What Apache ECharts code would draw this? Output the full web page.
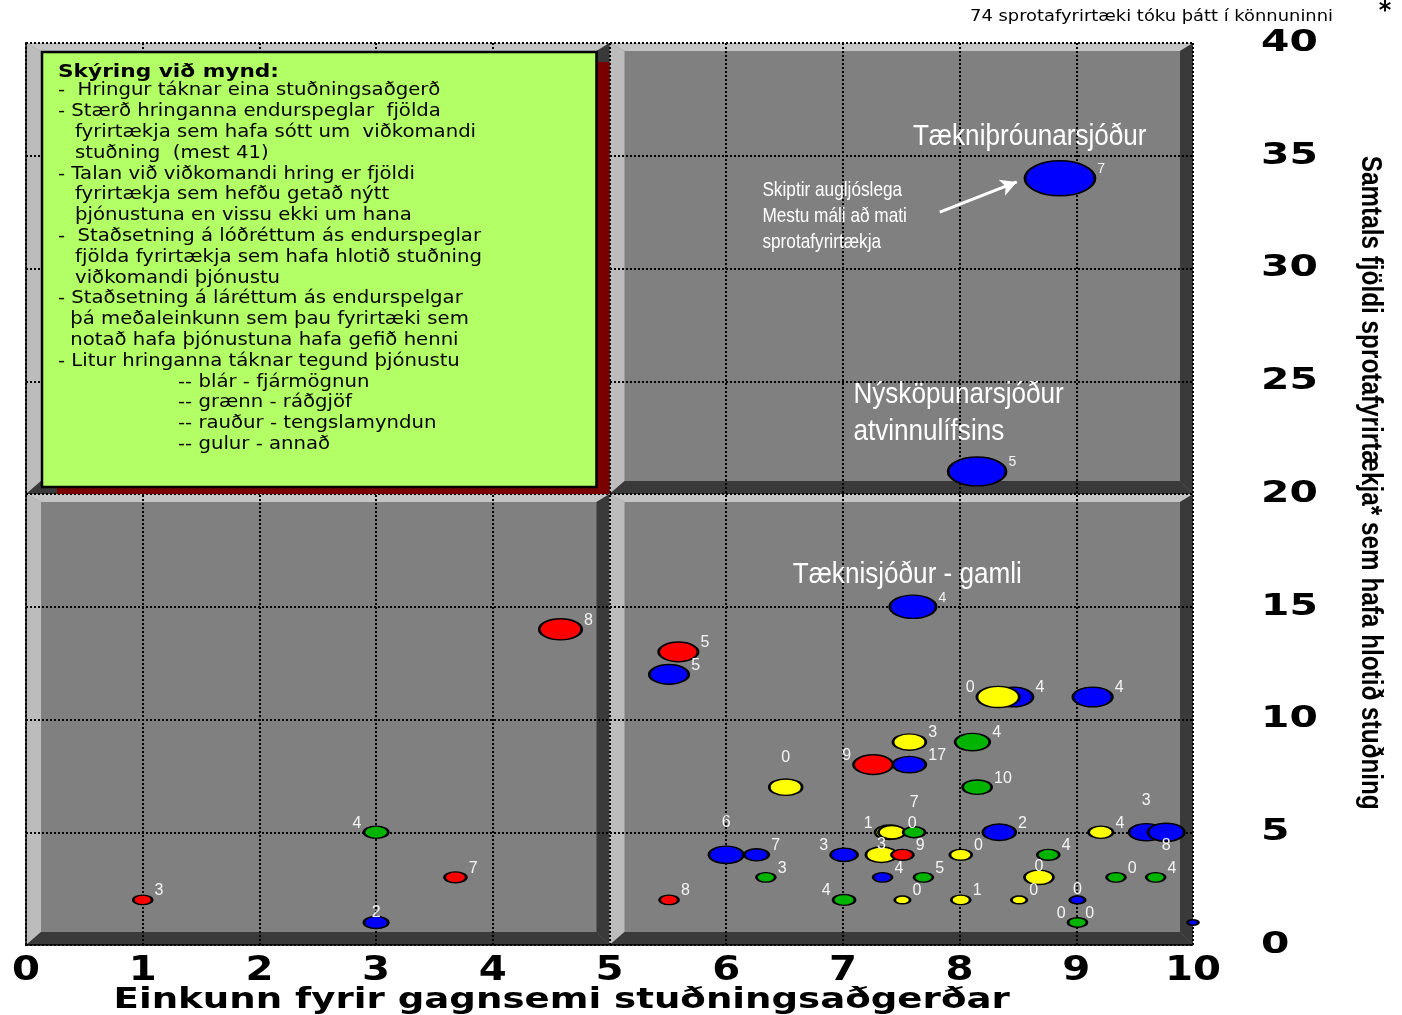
<!DOCTYPE html>
<html><head><meta charset="utf-8">
<script src="https://cdn.jsdelivr.net/npm/echarts@6/dist/echarts.min.js"></script>
<style>html,body{margin:0;padding:0;background:#fff;}#c{width:1402px;height:1015px;}</style>
</head><body><div id="c"></div>
<script>
// ---------- DATA ----------
const xTicks = [0,1,2,3,4,5,6,7,8,9,10];
const yTicks = [0,5,10,15,20,25,30,35,40];
// average score (x), number of firms that received support (y)
const score   = [8.86,8.15,7.60,4.58,5.59,5.51,8.46,8.33,9.14,7.57,8.11,7.26,7.57,6.51,8.15,3.00,7.40,7.42,7.61,8.34,9.21,9.60,9.77,6.00,6.26,7.01,7.33,7.51,8.01,8.76,3.68,6.34,7.34,7.69,8.68,9.34,9.68,1.00,5.51,7.01,7.51,8.01,8.51,9.01,3.00,9.01,9.01,10.0];
const count   = [34,21,15,14,13,12,11,11,11,9,9,8,8,7,7,5,5,5,5,5,5,5,5,4,4,4,4,4,4,4,3,3,3,3,3,3,3,2,2,2,2,2,2,2,1,1,1,1];
// number of firms that applied (bubble size, max 41)
const applied = [41,28,18,15,13,13,13,15,13,9,10,13,9,9,7,5,7,6,4,9,5,10,11,10,5,6,8,4,4,4,4,3,3,3,7,3,3,3,3,4,2,3,2,2,5,1,3,1];
// firms that could have used the service but did not know of it (label)
const unaware = [7,5,4,8,5,5,4,0,4,3,4,9,17,0,10,4,1,0,7,2,4,3,8,6,7,3,3,9,0,4,7,3,4,5,0,0,4,3,8,4,0,1,0,0,2,0,0,null];
// service type (colour)
const kind = ['blár','blár','blár','rauður','rauður','blár','blár','gulur','blár','gulur','grænn','rauður','blár','gulur','grænn','grænn','gulur','gulur','grænn','blár','gulur','blár','blár','blár','blár','blár','gulur','rauður','gulur','grænn','rauður','grænn','blár','grænn','gulur','grænn','grænn','rauður','rauður','grænn','gulur','gulur','gulur','blár','blár','gulur','grænn','blár'];

const quadrants = [[0,0,5,20],[5,0,10,20],[5,20,10,40],[0,20,5,40]];
const legendTitle = 'Skýring við mynd:';
const legendLines = [
 '-  Hringur táknar eina stuðningsaðgerð',
 '- Stærð hringanna endurspeglar  fjölda',
 'fyrirtækja sem hafa sótt um  viðkomandi',
 'stuðning  (mest 41)',
 '- Talan við viðkomandi hring er fjöldi',
 'fyrirtækja sem hefðu getað nýtt',
 'þjónustuna en vissu ekki um hana',
 '-  Staðsetning á lóðréttum ás endurspeglar',
 'fjölda fyrirtækja sem hafa hlotið stuðning',
 'viðkomandi þjónustu',
 '- Staðsetning á láréttum ás endurspelgar',
 ' þá meðaleinkunn sem þau fyrirtæki sem',
 ' notað hafa þjónustuna hafa gefið henni',
 '- Litur hringanna táknar tegund þjónustu',
 '-- blár - fjármögnun',
 '-- grænn - ráðgjöf',
 '-- rauður - tengslamyndun',
 '-- gulur - annað'
];
const xName = 'Einkunn fyrir gagnsemi stuðningsaðgerðar';
const yName = 'Samtals fjöldi sprotafyrirtækja* sem hafa hlotið stuðning';
const topNote = '74 sprotafyrirtæki tóku þátt í könnuninni';

// ---------- STYLE ----------
const COLORS = {'blár':'#0000FF','grænn':'#00B400','rauður':'#FF0000','gulur':'#FFFF00'};
const legendIndent = [0,0,17,17,0,17,17,0,17,17,0,6,6,0,120,120,120,120];
const K = 10.93;          // px per sqrt(size) (width)
const labelPlace = {7:['tl'],11:['tl'],13:['t',13],15:['tl'],16:['tl'],18:['t',15],21:['t',14],22:['b',-4],23:['t',15],25:['tl'],26:['t',-6],34:['t',-5],39:['tl'],43:['t',-2],44:['t',-5],46:['tl']};
const smallLabel = new Set([0,1,2]);

const mctx = document.createElement('canvas').getContext('2d');
function tw(text, font){ mctx.font = font; return mctx.measureText(text).width; }

function labelCfg(i){
  const p = labelPlace[i] || ['tr'];
  const base = {show: unaware[i] != null, color:'#f4f4f4', fontSize: smallLabel.has(i)?14:16, fontFamily:'Liberation Sans',
    formatter: prm => prm.value[3] == null ? '' : String(prm.value[3])};
  if (p[0]==='tr') return Object.assign(base,{position:'right',distance:1,offset:[0,-9]});
  if (p[0]==='tl') return Object.assign(base,{position:'left',distance:1,offset:[0,-9]});
  if (p[0]==='t') return Object.assign(base,{position:'top',distance:p[1]});
  return Object.assign(base,{position:'bottom',distance:p[1]});
}

const dotted = {color:'#000', type:[2,2], width:2};

function panelItem(params, api){
  const q = quadrants[params.dataIndex];
  const p0 = api.coord([q[0], q[3]]), p1 = api.coord([q[2], q[1]]);
  const x0=p0[0], y0=p0[1], x1=p1[0], y1=p1[1];
  const L=15, T=8, B=13, R=13;
  return {type:'group', children:[
    {type:'rect', shape:{x:x0,y:y0,width:x1-x0,height:y1-y0}, style:{fill:'#808080'}},
    {type:'polygon', shape:{points:[[x0,y0],[x1,y0],[x1-R,y0+T],[x0+L,y0+T]]}, style:{fill:'#c4c4c4'}},
    {type:'polygon', shape:{points:[[x0,y0],[x0+L,y0+T],[x0+L,y1-B],[x0,y1]]}, style:{fill:'#bcbcbc'}},
    {type:'polygon', shape:{points:[[x0,y1],[x0+L,y1-B],[x1-R,y1-B],[x1,y1]]}, style:{fill:'#3a3a3a'}},
    {type:'polygon', shape:{points:[[x1,y0],[x1,y1],[x1-R,y1-B],[x1-R,y0+T]]}, style:{fill:'#3a3a3a'}}
  ]};
}

const bodyFont = '17px "DejaVu Sans"';
const titleFont = 'bold 18px "DejaVu Sans"';
const bodyScale = 423 / tw(legendLines[7], bodyFont);
const titleScale = 221 / tw(legendTitle, titleFont);

function legendItem(params, api){
  const q = quadrants[3];
  const p0 = api.coord([q[0], q[3]]), p1 = api.coord([q[2], q[1]]);
  const x0=p0[0], y0=p0[1], x1=p1[0], y1=p1[1];
  const bx0=x0+16, by0=y0+9, bx1=x1-13, by1=y1-7;
  const ch = [
    {type:'rect', shape:{x:bx0+15,y:by0+10,width:x1-bx0-15,height:y1-by0-10}, style:{fill:'#7a0000'}},
    {type:'rect', shape:{x:bx0,y:by0,width:bx1-bx0,height:by1-by0}, style:{fill:'#B2FF66',stroke:'#000',lineWidth:2.5}},
    {type:'text', x:bx0+16, y:by0+20, scaleX:titleScale, style:{text:legendTitle, font:titleFont, fill:'#000', align:'left', verticalAlign:'middle'}}
  ];
  legendLines.forEach((t,i)=>{
    ch.push({type:'text', x:bx0+16+legendIndent[i], y:by0+39+i*20.8, scaleX:bodyScale,
      style:{text:t, font:bodyFont, fill:'#000', align:'left', verticalAlign:'middle'}});
  });
  return {type:'group', children:ch};
}

// tick labels (wide bold digits) placed through the axes' own scales
const xTickFont = 'bold 33px "DejaVu Sans"';
const yTickFont = 'bold 30px "DejaVu Sans"';
function xTickItem(params, api){
  const v = xTicks[params.dataIndex];
  const p = api.coord([v, 0]);
  return {type:'text', x:p[0], y:p[1]+26, scaleX:1.22,
    style:{text:String(v), font:xTickFont, fill:'#000', align:'center', verticalAlign:'middle'}};
}
function yTickItem(params, api){
  const v = yTicks[params.dataIndex];
  const p = api.coord([10, v]);
  return {type:'text', x:p[0]+68, y:p[1], scaleX:1.36,
    style:{text:String(v), font:yTickFont, fill:'#000', align:'left', verticalAlign:'middle'}};
}

const chart = echarts.init(document.getElementById('c'));
chart.setOption({
  animation:false,
  backgroundColor:'#ffffff',
  grid:{left:26,right:209,top:43,bottom:70},
  xAxis:{type:'value',min:0,max:10,interval:1,z:1,
    axisLine:{show:true,lineStyle:dotted}, axisTick:{show:false},
    axisLabel:{show:false},
    splitLine:{show:true,lineStyle:dotted}},
  yAxis:{type:'value',position:'right',min:0,max:40,interval:5,z:1,
    axisLine:{show:true,lineStyle:dotted}, axisTick:{show:false},
    axisLabel:{show:false},
    splitLine:{show:true,lineStyle:dotted}},
  series:[
    {type:'custom', z:0, silent:true, clip:false, renderItem:panelItem,
     encode:{x:[0,2],y:[1,3]}, data:quadrants},
    {type:'custom', z:2, silent:true, clip:false, renderItem:legendItem,
     encode:{x:[0,2],y:[1,3]}, data:[quadrants[3]]},
    {type:'custom', z:5, silent:true, clip:false, renderItem:xTickItem,
     encode:{x:0,y:1}, data:xTicks.map(v=>[v,0])},
    {type:'custom', z:5, silent:true, clip:false, renderItem:yTickItem,
     encode:{x:0,y:1}, data:yTicks.map(v=>[10,v])},
    {type:'scatter', z:3, symbol:'circle',
     symbolSize: v => { const w = K*Math.sqrt(v[2]); return [w, w*0.5]; },
     data: score.map((x,i)=>({value:[x,count[i],applied[i],unaware[i]],
        itemStyle:{color:COLORS[kind[i]], borderColor:'#000', borderWidth:2, opacity:1}, label:labelCfg(i)})),
     markLine:{silent:true, symbol:['none','arrow'], symbolSize:[13,16], animation:false,
       lineStyle:{color:'#ffffff', width:3, type:'solid', opacity:1}, label:{show:false},
       data:[[{coord:[7.83,32.5]},{coord:[8.49,33.84]}]]}
    }
  ]
});

// annotations anchored in data coordinates
const px = (x,y) => chart.convertToPixel({gridIndex:0}, [x,y]);
const annotations = [
  {lines:['Tækniþróunarsjóður'], at:[7.6,35.83], size:30, lead:0, narrow:0.87},
  {lines:['Skiptir augljóslega','Mestu máli að mati','sprotafyrirtækja'], at:[6.31,33.48], size:21, lead:26, narrow:0.82},
  {lines:['Nýsköpunarsjóður','atvinnulífsins'], at:[7.09,24.39], size:30, lead:37, narrow:0.87},
  {lines:['Tæknisjóður - gamli'], at:[6.57,16.41], size:30, lead:0, narrow:0.87}
];
const g = [];
annotations.forEach(a=>{
  const p = px(a.at[0], a.at[1]);
  a.lines.forEach((t,i)=>{
    g.push({type:'text', z:10, x:p[0], y:p[1]+i*a.lead, scaleX:a.narrow,
      style:{text:t, font:a.size+'px "Liberation Sans"', fill:'#ffffff', textAlign:'left', textVerticalAlign:'middle', align:'left', verticalAlign:'middle'}});
  });
});
// x-axis name: spans data x 0.75 .. 8.43
const xa = px(0.75,0), xb = px(8.43,0);
const xFont = 'bold 28px "DejaVu Sans"';
g.push({type:'text', z:10, x:xa[0], y:xa[1]+56, scaleX:(xb[0]-xa[0])/tw(xName,xFont),
  style:{text:xName, font:xFont, fill:'#000', textAlign:'left', textVerticalAlign:'middle', align:'left', verticalAlign:'middle'}});
// y-axis name: spans data y 35 .. 6, right of axis
const ya = px(10,35), yb = px(10,6);
const yFont = 'bold 30px "Liberation Sans"';
g.push({type:'text', z:10, x:ya[0]+177, y:(ya[1]+yb[1])/2, rotation:-Math.PI/2, scaleX:(yb[1]-ya[1])/tw(yName,yFont),
  style:{text:yName, font:yFont, fill:'#000', textAlign:'center', textVerticalAlign:'middle', align:'center', verticalAlign:'middle'}});
// top note: from x≈970 to 1333
const noteFont = '15px "DejaVu Sans"';
const tr = px(10,40);
g.push({type:'text', z:10, x:tr[0]-223, y:17, scaleX:363/tw(topNote,noteFont),
  style:{text:topNote, font:noteFont, fill:'#000', textAlign:'left', textVerticalAlign:'middle', align:'left', verticalAlign:'middle'}});
g.push({type:'text', z:10, x:tr[0]+192, y:12, style:{text:'*', font:'bold 24px "DejaVu Sans"', fill:'#000', textAlign:'center', textVerticalAlign:'middle', align:'center', verticalAlign:'middle'}});
chart.setOption({graphic:g});
</script>
</body></html>
